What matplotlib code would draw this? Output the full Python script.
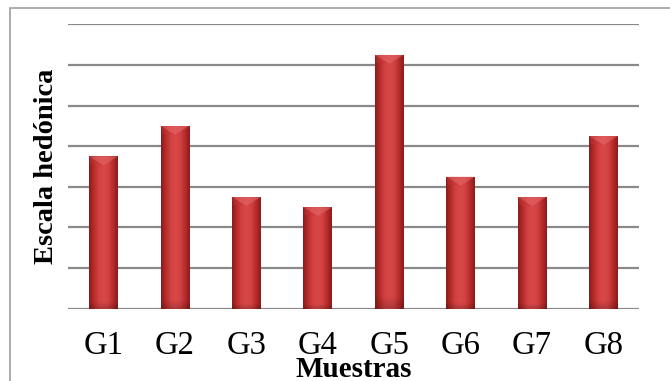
import numpy as np
import matplotlib
matplotlib.use("Agg")
import matplotlib.pyplot as plt
from matplotlib.patches import Rectangle, Polygon
from matplotlib.colors import LinearSegmentedColormap

muestras = ['G1', 'G2', 'G3', 'G4', 'G5', 'G6', 'G7', 'G8']
escala = [3.75, 4.5, 2.75, 2.5, 6.25, 3.25, 2.75, 4.25]

plt.rcParams['font.family'] = ['Liberation Serif', 'DejaVu Serif']

fig = plt.figure(figsize=(6.7, 3.81), dpi=100)
ax = fig.add_axes([0.101, 0.1898, 0.853, 0.746])

x = np.arange(len(muestras))
bars = ax.bar(x, escala, width=0.40, color='none', edgecolor='none', zorder=3)

ax.set_yticks(np.arange(0, 8, 1))
ax.set_yticklabels([])
ax.yaxis.grid(True, color='#8a8a8a', linewidth=1.6)
ax.set_axisbelow(True)
for s in ax.spines.values():
    s.set_visible(False)
ax.tick_params(axis='both', length=0)
ax.set_xticks(x)
ax.set_xticklabels(muestras, fontsize=23.5)
ax.tick_params(axis='x', pad=16)

# cylinder-like shading: dark edges, lighter center
cmap = LinearSegmentedColormap.from_list('rojo', ['#8a1c1c', '#b82c2c', '#d24242', '#d84848', '#d24242', '#b82c2c', '#8a1c1c'])
h = np.linspace(0, 1, 64)
v = np.linspace(0, 1, 100)[:, None]
grad = np.tile(h, (100, 1))
for b in bars:
    x0, w, top = b.get_x(), b.get_width(), b.get_height()
    im = ax.imshow(grad, cmap=cmap, aspect='auto', origin='lower',
                   extent=[x0, x0 + w, 0, top], zorder=3, interpolation='bicubic')
    im.set_clip_path(b)
    # slight darkening right at the base
    shade = np.zeros((100, 1, 4))
    shade[..., 3] = np.clip(0.18 - v * 4, 0, 0.18)
    ax.imshow(shade, aspect='auto', origin='lower', extent=[x0, x0 + w, 0, top], zorder=4)
    # bevel at the top of each bar
    bh = 0.22
    ax.add_patch(Polygon([[x0, top], [x0 + w, top], [x0 + w / 2, top - bh]],
                         closed=True, facecolor='#e46a6a', edgecolor='none', alpha=0.55, zorder=5))
    ax.add_patch(Polygon([[x0, top], [x0 + w * 0.06, top - bh * 0.9], [x0 + w / 2, top - bh]],
                         closed=True, facecolor='#c83636', edgecolor='none', alpha=0.4, zorder=5))

ax.set_xlim(-0.5, len(muestras) - 0.5)
ax.set_ylim(0, 7)

fig.text(0.5275, 1 - 377 / 381, 'Muestras', ha='center', va='baseline', fontsize=21, fontweight='bold')
fig.text(47 / 670, 1 - 166.5 / 381, 'Escala hedónica', ha='center', va='center',
         rotation=90, fontsize=20.5, fontweight='bold')

# outer chart border
fig.add_artist(Rectangle((10 / 670, -0.1), 1.2, 1.1 - 8 / 381, transform=fig.transFigure,
                         facecolor='none', edgecolor='#a6a6a6', linewidth=1.3))

fig.savefig('out.png', dpi=100)
